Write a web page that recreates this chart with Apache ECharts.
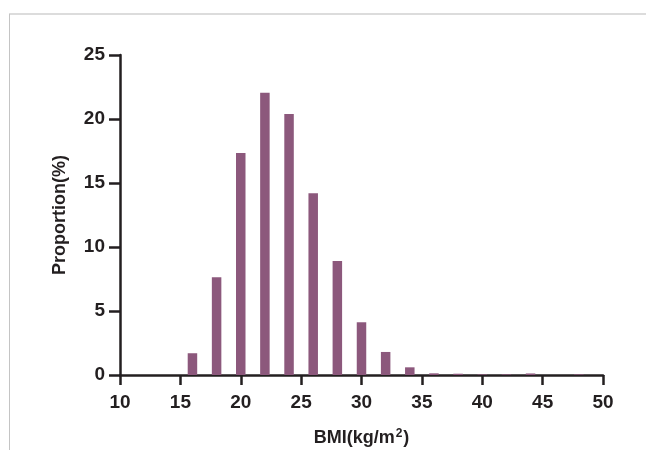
<!DOCTYPE html>
<html>
<head>
<meta charset="utf-8">
<script src="https://cdn.jsdelivr.net/npm/echarts@6/dist/echarts.min.js"></script>
<style>
  html, body { margin: 0; padding: 0; background: #fff; }
  #chart { width: 646px; height: 450px; }
</style>
</head>
<body>
<div id="chart"></div>
<script>
// BMI bin centres (kg/m²) and share of subjects in each bin (%)
var bmiBins = [16, 18, 20, 22, 24, 26, 28, 30, 32, 34, 36, 38, 40, 42, 44, 46, 48];
var proportion = [1.7, 7.63, 17.35, 22.06, 20.4, 14.2, 8.9, 4.12, 1.8, 0.6, 0.13, 0.1, 0.05, 0.05, 0.12, 0, 0.05];
var xTicks = [10, 15, 20, 25, 30, 35, 40, 45, 50];
var yTicks = [0, 5, 10, 15, 20, 25];

var barData = bmiBins.map(function (b, i) { return [b, proportion[i]]; });

var axisColor = '#231f20';
var fontFamily = 'Liberation Sans, Arial, sans-serif';
var labelFont = { color: '#231f20', fontFamily: fontFamily, fontWeight: 'bold', fontSize: 19 };

var chart = echarts.init(document.getElementById('chart'), null, { renderer: 'canvas' });
chart.setOption({
  animation: false,
  backgroundColor: '#ffffff',
  graphic: [
    { type: 'line', shape: { x1: 9, y1: 14, x2: 646, y2: 14 }, style: { stroke: '#dcdcdc', lineWidth: 2 } },
    { type: 'line', shape: { x1: 9.5, y1: 14, x2: 9.5, y2: 450 }, style: { stroke: '#c4c4c4', lineWidth: 1 } }
  ],
  grid: { left: 120, right: 43, top: 55, bottom: 75, containLabel: false, outerBoundsMode: 'none' },
  xAxis: {
    type: 'value',
    min: xTicks[0],
    max: xTicks[xTicks.length - 1],
    interval: 5,
    name: '{n|BMI(kg/m}{s|2}{n|)}',
    nameLocation: 'middle',
    nameGap: 53,
    nameTextStyle: {
      rich: {
        n: { fontFamily: fontFamily, fontWeight: 'bold', fontSize: 18, color: '#231f20' },
        s: { fontFamily: fontFamily, fontWeight: 'bold', fontSize: 12, color: '#231f20', verticalAlign: 'top', padding: [0, 1, 8, 1] }
      }
    },
    axisLine: { show: true, lineStyle: { color: axisColor, width: 2.5 } },
    axisTick: { show: true, inside: false, length: 10, lineStyle: { color: axisColor, width: 2.5 } },
    axisLabel: Object.assign({ margin: 18 }, labelFont),
    splitLine: { show: false }
  },
  yAxis: {
    type: 'value',
    min: yTicks[0],
    max: yTicks[yTicks.length - 1],
    interval: 5,
    name: 'Proportion(%)',
    nameLocation: 'middle',
    nameGap: 51,
    nameTextStyle: { fontFamily: fontFamily, fontWeight: 'bold', fontSize: 18, color: '#231f20' },
    axisLine: { show: true, lineStyle: { color: axisColor, width: 2.5 } },
    axisTick: { show: true, inside: false, length: 11, lineStyle: { color: axisColor, width: 2.5 } },
    axisLabel: Object.assign({ margin: 15 }, labelFont),
    splitLine: { show: false }
  },
  series: [{
    type: 'bar',
    data: barData,
    barWidth: 9.5,
    itemStyle: { color: '#8c587c' },
    z: 1
  }]
});
</script>
</body>
</html>
